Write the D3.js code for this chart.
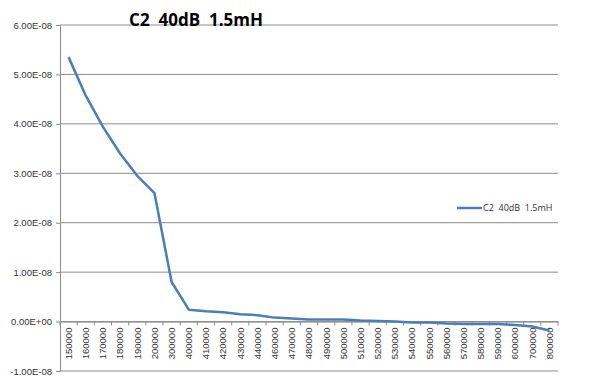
<!DOCTYPE html>
<html>
<head>
<meta charset="utf-8">
<script src="https://cdn.jsdelivr.net/npm/d3@7"></script>
<style>
  body { margin: 0; background: #fff; }
  svg { display: block; font-family: "Open Sans", "Liberation Sans", sans-serif; }
  text { white-space: pre; }
</style>
</head>
<body>
<svg width="600" height="376"></svg>
<script>
const seriesName = 'C2  40dB  1.5mH';

const frequencies = ['150000', '160000', '170000', '180000', '190000', '200000', '300000',
  '400000', '410000', '420000', '430000', '440000', '460000', '470000', '480000', '490000',
  '500000', '510000', '520000', '530000', '540000', '550000', '560000', '570000', '580000',
  '590000', '600000', '700000', '800000'];

const capacitance = [5.35e-8, 4.57e-8, 3.94e-8, 3.40e-8, 2.95e-8, 2.60e-8, 0.80e-8,
  0.24e-8, 0.21e-8, 0.19e-8, 0.15e-8, 0.13e-8, 0.08e-8, 0.06e-8, 0.04e-8, 0.04e-8,
  0.04e-8, 0.02e-8, 0.01e-8, 0.0, -0.02e-8, -0.02e-8, -0.04e-8, -0.05e-8, -0.05e-8,
  -0.05e-8, -0.07e-8, -0.10e-8, -0.18e-8];

const yTicks = [-1e-8, 0, 1e-8, 2e-8, 3e-8, 4e-8, 5e-8, 6e-8];

const svg = d3.select('svg');
const margin = { top: 25, right: 42, bottom: 5, left: 60 };
const width = 600, height = 376;
const plotWidth = width - margin.left - margin.right;
const plotHeight = height - margin.top - margin.bottom;

const g = svg.append('g').attr('transform', `translate(${margin.left},${margin.top})`);

const x = d3.scaleBand().domain(frequencies).range([0, plotWidth]);
const y = d3.scaleLinear().domain([-1e-8, 6e-8]).range([plotHeight, 0]);

const fmt = v => {
  const s = v.toExponential(2).toUpperCase();
  return s.replace(/E([+-])(\d)$/, 'E$10$2');
};

// gridlines
g.append('g').selectAll('line').data(yTicks).join('line')
  .attr('x1', 0).attr('x2', plotWidth)
  .attr('y1', d => y(d)).attr('y2', d => y(d))
  .attr('stroke', '#8c8c8c').attr('stroke-width', 1);

// y axis
const yAxis = g.append('g')
  .call(d3.axisLeft(y).tickValues(yTicks).tickFormat(fmt).tickSize(4).tickPadding(4));
yAxis.select('.domain').attr('stroke', '#8c8c8c');
yAxis.selectAll('.tick line').attr('stroke', '#8c8c8c');
yAxis.selectAll('text').attr('font-size', 9.5).attr('fill', '#333');

// x axis at zero
const xAxis = g.append('g').attr('transform', `translate(0,${y(0)})`)
  .call(d3.axisBottom(x).tickSize(0).tickPadding(0));
xAxis.select('.domain').attr('stroke', '#8c8c8c');
xAxis.selectAll('.tick line').remove();
xAxis.selectAll('.tick text')
  .attr('transform', 'rotate(-90)')
  .attr('text-anchor', 'end')
  .attr('dy', '0.35em')
  .attr('x', -6).attr('y', 0)
  .attr('font-size', 9.5).attr('fill', '#333');
// category separator ticks
xAxis.append('g').selectAll('line')
  .data(frequencies.concat(['end']))
  .join('line')
  .attr('x1', (d, i) => i * x.step()).attr('x2', (d, i) => i * x.step())
  .attr('y1', 0).attr('y2', 4)
  .attr('stroke', '#8c8c8c');

// series line
const line = d3.line()
  .x((d, i) => x(frequencies[i]) + x.bandwidth() / 2)
  .y(d => y(d));
g.append('path').datum(capacitance)
  .attr('d', line)
  .attr('fill', 'none')
  .attr('stroke', '#4a7ebb')
  .attr('stroke-width', 2.5)
  .attr('stroke-linejoin', 'round');

// title
svg.append('text')
  .attr('x', 189).attr('y', 26)
  .attr('text-anchor', 'middle')
  .attr('font-size', 17).attr('font-weight', 'bold')
  .attr('fill', '#000')
  .attr('dx', 7)
  .text(seriesName);

// legend
const legend = svg.append('g').attr('transform', 'translate(457,208)');
legend.append('line').attr('x1', 0).attr('x2', 25).attr('y1', 0).attr('y2', 0)
  .attr('stroke', '#4a7ebb').attr('stroke-width', 2.5);
legend.append('text').attr('x', 26).attr('y', 0).attr('dy', '0.35em')
  .attr('font-size', 9).attr('fill', '#333')
  .text(seriesName);
</script>
</body>
</html>
